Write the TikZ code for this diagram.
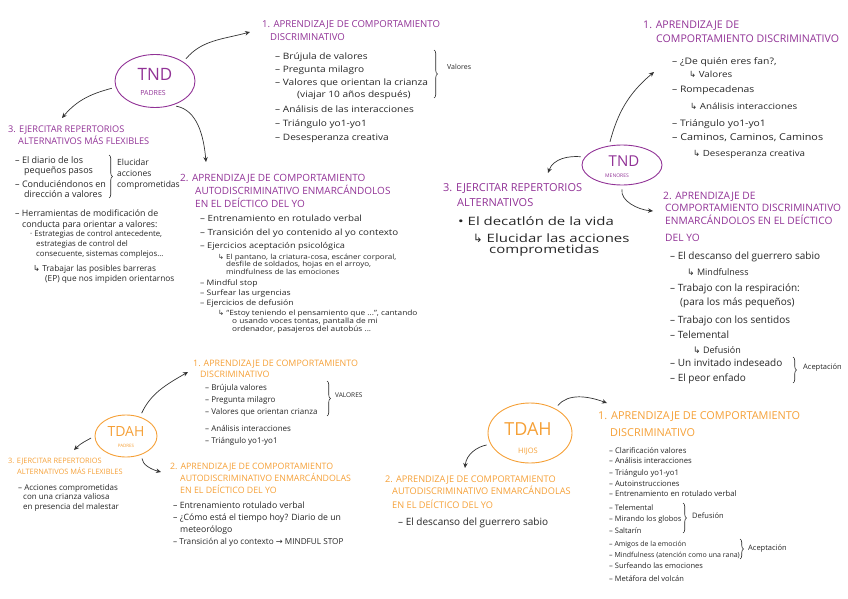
\documentclass[tikz,border=0pt]{standalone}
\usepackage{fontspec}
\setmainfont{Open Sans}
\newfontfamily\symfont{DejaVu Sans}
\newfontfamily\wide[FakeStretch=1.15]{Open Sans}
\newfontfamily\wider[FakeStretch=1.3]{Open Sans}
\usetikzlibrary{shapes.geometric,arrows.meta,decorations.pathreplacing}
\definecolor{tndpurple}{RGB}{145,50,150}
\definecolor{tdahorange}{RGB}{245,160,55}
\newcommand{\fsz}[1]{\fontsize{#1}{#1}\selectfont}
\newcommand{\hk}{{\symfont ↳}}
\newcommand{\rto}{{\symfont →}}

\tikzstyle{tnd head}=[anchor=base west,inner sep=0pt,text=tndpurple]
\tikzstyle{tdah head}=[anchor=base west,inner sep=0pt,text=tdahorange]
\tikzstyle{item}=[anchor=base west,inner sep=0pt,text=black!85]
\tikzstyle{tnd circ}=[ellipse,draw=tndpurple,line width=0.9pt,inner sep=0pt]
\tikzstyle{tdah circ}=[ellipse,draw=tdahorange,line width=0.9pt,inner sep=0pt]
\tikzstyle{link}=[draw,line width=0.7pt,black!80,-{Stealth[length=5pt,width=4.5pt]},shorten <=4pt]
\tikzstyle{group brace}=[draw,black!85,line width=0.6pt,decorate,decoration={brace,amplitude=3.5pt}]

\begin{document}
\begin{tikzpicture}[x=1pt,y=1pt]
\useasboundingbox (0,0) rectangle (848,-599);

% ---- TND padres ----
\node[tnd circ,minimum width=80pt,minimum height=53pt] (tndp) at (155,-81) {};
\node[text=tndpurple,font=\fsz{17}] (tndpt) at (155,-74) {TND};
\node[text=tndpurple,font=\fsz{7}] (tndps) at (153,-93) {PADRES};

\foreach \x/\y/\t [count=\i] in {262/28/{1. APRENDIZAJE DE COMPORTAMIENTO},270/41/DISCRIMINATIVO}
  \node[tnd head,font=\fsz{9.6}] (tndpa\i) at (\x,-\y) {\t};
\foreach \x/\y/\t [count=\i] in {275/60/{– Brújula de valores},275/73/{– Pregunta milagro},
    275/86/{– Valores que orientan la crianza},297/98/{(viajar 10 años después)},
    275/113/{– Análisis de las interacciones},275/126/{– Triángulo yo1-yo1},275/140/{– Desesperanza creativa}}
  \node[item,font=\wide\fsz{8.8}] (tndpai\i) at (\x,-\y) {\t};
\draw[group brace] (434,-50) -- (434,-98);
\node[item,font=\fsz{7}] (tndpav) at (447,-70) {Valores};

\foreach \x/\y/\t [count=\i] in {8/132/{3. EJERCITAR REPERTORIOS},18/144/{ALTERNATIVOS MÁS FLEXIBLES}}
  \node[tnd head,font=\fsz{9.2}] (tndpc\i) at (\x,-\y) {\t};
\foreach \x/\y/\s/\t [count=\i] in {15/163/9/{– El diario de los},24/173/9/{pequeños pasos},
    15/187/9/{– Conduciéndonos en},24/197/9/{dirección a valores},
    117/165/8.5/Elucidar,117/176/8.5/acciones,117/187/8.5/comprometidas,
    15/216/8.8/{– Herramientas de modificación de},22/227/8.8/{conducta para orientar a valores:},
    30/236/7.8/{· Estrategias de control antecedente,},36/246/7.8/{estrategias de control del},
    36/256/7.8/{consecuente, sistemas complejos...},
    33/271/8.3/{\hk\ Trabajar las posibles barreras},45/281/8.3/{(EP) que nos impiden orientarnos}}
  \node[item,font=\fsz{\s}] (tndpci\i) at (\x,-\y) {\t};
\draw[group brace] (109,-155) -- (109,-198);

\foreach \x/\y/\t [count=\i] in {180/181/{2. APRENDIZAJE DE COMPORTAMIENTO},
    195/194/{AUTODISCRIMINATIVO ENMARCÁNDOLOS},195/207/{EN EL DEÍCTICO DEL YO}}
  \node[tnd head,font=\fsz{10}] (tndpb\i) at (\x,-\y) {\t};
\foreach \x/\y/\s/\t [count=\i] in {200/221/8.5/{– Entrenamiento en rotulado verbal},
    200/235/8.5/{– Transición del yo contenido al yo contexto},200/248/8/{– Ejercicios aceptación psicológica},
    218/259/7/{\hk\ El pantano, la criatura-cosa, escáner corporal,},
    226/266.5/7/{desfile de soldados, hojas en el arroyo,},226/274/7/{mindfulness de las emociones},
    200/285/7.5/{– Mindful stop},200/295/7.5/{– Surfear las urgencias},200/305/7.5/{– Ejercicios de defusión},
    218/315/7.2/{\hk\ “Estoy teniendo el pensamiento que ...”, cantando},
    232/323/7.2/{o usando voces tontas, pantalla de mi},232/331/7.2/{ordenador, pasajeros del autobús ...}}
  \node[item,font=\wide\fsz{\s}] (tndpbi\i) at (\x,-\y) {\t};

% ---- TND menores ----
\node[tnd circ,minimum width=80pt,minimum height=40pt] (tndm) at (622,-165) {};
\node[text=tndpurple,font=\fsz{15}] (tndmt) at (624,-161) {TND};
\node[text=tndpurple,font=\fsz{5}] (tndms) at (617,-176) {MENORES};

\foreach \x/\y/\t [count=\i] in {643/29/{1. APRENDIZAJE DE},656/43/{COMPORTAMIENTO DISCRIMINATIVO}}
  \node[tnd head,font=\fsz{10.6}] (tndma\i) at (\x,-\y) {\t};
\foreach \x/\y/\s/\t [count=\i] in {672/65/9/{– ¿De quién eres fan?,},689/78/8.5/{\hk\ Valores},
    672/93/9/{– Rompecadenas},690/110/8.5/{\hk\ Análisis interacciones},672/126/9/{– Triángulo yo1-yo1},
    672/140/9.4/{– Caminos, Caminos, Caminos},693/156/8.5/{\hk\ Desesperanza creativa}}
  \node[item,font=\wide\fsz{\s}] (tndmai\i) at (\x,-\y) {\t};

\foreach \x/\y/\t [count=\i] in {443/191/{3. EJERCITAR REPERTORIOS},457/206/ALTERNATIVOS}
  \node[tnd head,font=\fsz{11}] (tndmc\i) at (\x,-\y) {\t};
\foreach \x/\y/\t [count=\i] in {458/225/{• El decatlón de la vida},473/242/{\hk\ Elucidar las acciones},489/253/comprometidas}
  \node[item,font=\wider\fsz{11.5}] (tndmci\i) at (\x,-\y) {\t};

\foreach \x/\y/\t [count=\i] in {663/199/{2. APRENDIZAJE DE},665/211/{COMPORTAMIENTO DISCRIMINATIVO},
    665/224/{ENMARCÁNDOLOS EN EL DEÍCTICO},665/241/{DEL YO}}
  \node[tnd head,font=\fsz{10.2}] (tndmb\i) at (\x,-\y) {\t};
\foreach \x/\y/\s/\t [count=\i] in {670/259/10/{– El descanso del guerrero sabio},687/275/9/{\hk\ Mindfulness},
    670/291/10/{– Trabajo con la respiración:},680/305/10/{(para los más pequeños)},
    670/323/10/{– Trabajo con los sentidos},670/338/10/{– Telemental},693/353/9/{\hk\ Defusión},
    670/366/10/{– Un invitado indeseado},670/381/10/{– El peor enfado}}
  \node[item,font=\fsz{\s}] (tndmbi\i) at (\x,-\y) {\t};
\draw[group brace] (793,-357) -- (793,-383);
\node[item,font=\fsz{7.5}] (tndmbv) at (803,-369) {Aceptación};

% ---- TDAH padres ----
\node[tdah circ,minimum width=62pt,minimum height=42pt] (tdahp) at (126,-436) {};
\node[text=tdahorange,font=\fsz{14}] (tdahpt) at (126,-431) {TDAH};
\node[text=tdahorange,font=\fsz{4.5}] (tdahps) at (126,-446) {PADRES};

\foreach \x/\y/\t [count=\i] in {193/366/{1. APRENDIZAJE DE COMPORTAMIENTO},200/377/DISCRIMINATIVO}
  \node[tdah head,font=\fsz{8.9}] (tdahpa\i) at (\x,-\y) {\t};
\foreach \x/\y/\t [count=\i] in {205/390/{– Brújula valores},205/402/{– Pregunta milagro},
    205/414/{– Valores que orientan crianza},205/431/{– Análisis interacciones},205/443/{– Triángulo yo1-yo1}}
  \node[item,font=\fsz{8}] (tdahpai\i) at (\x,-\y) {\t};
\draw[group brace] (327,-381) -- (327,-416);
\node[item,font=\fsz{6.5}] (tdahpav) at (335,-397) {VALORES};

\foreach \x/\y/\t [count=\i] in {8/463/{3. EJERCITAR REPERTORIOS},17/474/{ALTERNATIVOS MÁS FLEXIBLES}}
  \node[tdah head,font=\fsz{7.4}] (tdahpc\i) at (\x,-\y) {\t};
\foreach \x/\y/\t [count=\i] in {18/490/{– Acciones comprometidas},23/499/{con una crianza valiosa},23/509/{en presencia del malestar}}
  \node[item,font=\fsz{8}] (tdahpci\i) at (\x,-\y) {\t};

\foreach \x/\y/\t [count=\i] in {170/469/{2. APRENDIZAJE DE COMPORTAMIENTO},
    180/481/{AUTODISCRIMINATIVO ENMARCÁNDOLAS},180/493/{EN EL DEÍCTICO DEL YO}}
  \node[tdah head,font=\fsz{8.8}] (tdahpb\i) at (\x,-\y) {\t};
\foreach \x/\y/\s/\t [count=\i] in {173/508/8.7/{– Entrenamiento rotulado verbal},
    173/520/8.7/{– ¿Cómo está el tiempo hoy? Diario de un},180/532/8.7/meteorólogo,
    173/544/8.2/{– Transición al yo contexto \rto\ MINDFUL STOP}}
  \node[item,font=\fsz{\s}] (tdahpbi\i) at (\x,-\y) {\t};

% ---- TDAH hijos ----
\node[tdah circ,minimum width=84pt,minimum height=60pt] (tdahh) at (530,-433) {};
\node[text=tdahorange,font=\fsz{18}] (tdahht) at (528,-429) {TDAH};
\node[text=tdahorange,font=\fsz{7.5}] (tdahhs) at (528,-451) {HIJOS};

\foreach \x/\y/\t [count=\i] in {598/419/{1. APRENDIZAJE DE COMPORTAMIENTO},610/436/DISCRIMINATIVO}
  \node[tdah head,font=\fsz{10.9}] (tdahha\i) at (\x,-\y) {\t};
\foreach \x/\y/\s/\t [count=\i] in {609/453/7.7/{– Clarificación valores},609/463/7.7/{– Análisis interacciones},
    609/475/7.7/{– Triángulo yo1-yo1},609/486/7.7/{– Autoinstrucciones},
    609/496/7.7/{– Entrenamiento en rotulado verbal},609/510/7.5/{– Telemental},
    609/521/7.5/{– Mirando los globos},609/533/7.5/{– Saltarín},
    609/546/7/{– Amigos de la emoción},609/557/7/{– Mindfulness (atención como una rana)},
    609/568/7.5/{– Surfeando las emociones},609/581/7.5/{– Metáfora del volcán}}
  \node[item,font=\fsz{\s}] (tdahhai\i) at (\x,-\y) {\t};
\draw[group brace] (683,-503) -- (683,-533);
\node[item,font=\fsz{7.5}] (tdahhav) at (692,-518) {Defusión};
\draw[group brace] (740,-539) -- (740,-559);
\node[item,font=\fsz{7.5}] (tdahhaw) at (748,-550) {Aceptación};

\foreach \x/\y/\t [count=\i] in {385/482/{2. APRENDIZAJE DE COMPORTAMIENTO},
    392/494/{AUTODISCRIMINATIVO ENMARCÁNDOLAS},392/508/{EN EL DEÍCTICO DEL YO}}
  \node[tdah head,font=\fsz{9.2}] (tdahhb\i) at (\x,-\y) {\t};
\node[item,font=\fsz{10}] (tdahhbi1) at (398,-525) {– El descanso del guerrero sabio};

% arrow tips next to the headings
\coordinate (tp1) at (250,-32);
\coordinate (tp3) at (62,-118);
\coordinate (tp2) at (206,-162);
\coordinate (tm1) at (654,-72);
\coordinate (tm3) at (548,-173);
\coordinate (tm2) at (653,-211);
\coordinate (dp1) at (188,-372);
\coordinate (dp3) at (74,-450);
\coordinate (dp2) at (161,-472);
\coordinate (dh1) at (607,-403);
\coordinate (dh2) at (465,-468);

% Connect each circle with its headings
\foreach \source/\dest/\o/\n in {tndp.34/tp1/50/195, tndp.189/tp3/195/50, tndp.305/tp2/-10/95,
    tndm.124/tm1/75/220, tndm.168/tm3/175/70, tndm.272/tm2/260/175,
    tdahp.54/dp1/65/210, tdahp.180/dp3/210/45, tdahp.310/dp2/-85/165,
    tdahh.44/dh1/50/160, tdahh.196/dh2/190/85}
  \path[link] (\source) to[out=\o,in=\n] (\dest);
\end{tikzpicture}
\end{document}
